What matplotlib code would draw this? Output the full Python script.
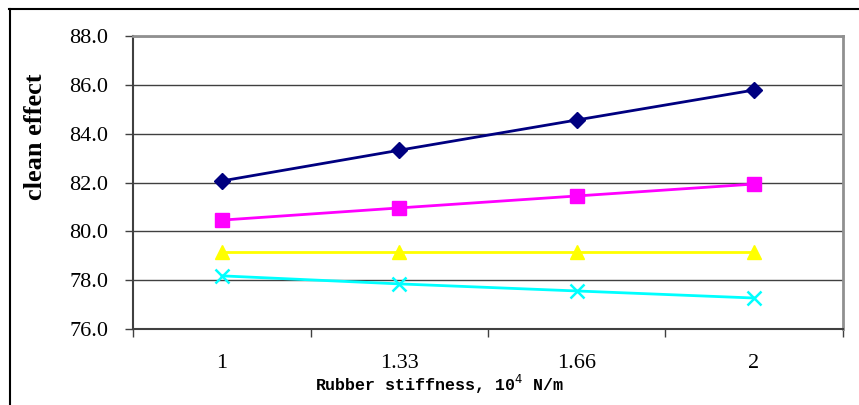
import numpy as np
import matplotlib.pyplot as plt
from matplotlib.lines import Line2D

categories = ["1", "1.33", "1.66", "2"]
series_a = [82.07, 83.33, 84.57, 85.80]
series_b = [80.46, 80.96, 81.45, 81.94]
series_c = [79.15, 79.15, 79.15, 79.15]
series_d = [78.17, 77.84, 77.55, 77.26]
yticks = [76, 78, 80, 82, 84, 86, 88]

fig = plt.figure(figsize=(8.59, 4.05), dpi=100)
ax = fig.add_axes([0.1554, 0.1884, 0.8254, 0.7215])

x = np.arange(len(categories))
ax.plot(x, series_a, color="#000080", lw=2, marker="D", ms=8, zorder=3)
ax.plot(x, series_b, color="#FF00FF", lw=2, marker="s", ms=10, zorder=3)
ax.plot(x, series_c, color="#FFFF00", lw=2, marker="^", ms=10, zorder=3)
ax.plot(x, series_d, color="#00FFFF", lw=2, marker="x", ms=10, mew=1.8, zorder=3)

ax.set_xlim(-0.5, len(categories) - 0.5)
ax.set_ylim(76, 88)
ax.set_yticks(yticks)
ax.set_yticklabels([f"{v:.1f}" for v in yticks], fontfamily="Liberation Serif", fontsize=16)
ax.set_xticks(x)
ax.set_xticklabels(categories, fontfamily="Liberation Serif", fontsize=16)
ax.set_xticks(np.arange(-0.5, len(categories)), minor=True)
ax.tick_params(axis="x", which="major", length=0, pad=18)
ax.tick_params(axis="x", which="minor", length=6, width=1, color="#404040")
ax.tick_params(axis="y", length=6, width=1, color="#404040", pad=12)

ax.yaxis.grid(True, color="#404040", lw=1)
ax.set_axisbelow(True)
for s in ["left", "bottom"]:
    ax.spines[s].set_color("#404040")
    ax.spines[s].set_linewidth(1.5)
for s in ["top", "right"]:
    ax.spines[s].set_color("#909090")
    ax.spines[s].set_linewidth(2)

fig.text(35 / 859, 1 - 137 / 405, "clean effect", rotation=90, ha="center", va="center",
         fontfamily="Liberation Serif", fontweight="bold", fontsize=19)
fig.text(440 / 859, 1 - 384 / 405, "Rubber stiffness, 10$^4$ N/m", ha="center", va="center",
         fontfamily="Liberation Mono", fontweight="bold", fontsize=12)

# outer chart frame (only top and left visible)
fig.add_artist(Line2D([9 / 859, 1], [1 - 9 / 405, 1 - 9 / 405], color="black", lw=1.5))
fig.add_artist(Line2D([10 / 859, 10 / 859], [0, 1 - 9 / 405], color="black", lw=1.5))

fig.savefig("out.png", dpi=100)
